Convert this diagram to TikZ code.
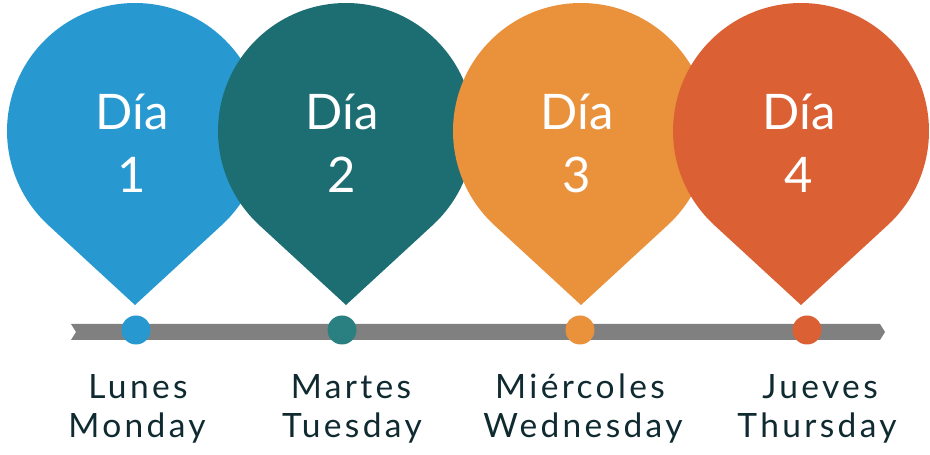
\documentclass[tikz,border=0pt]{standalone}
\usepackage{fontspec}
\setmainfont{Lato}
\newfontfamily\lblfont[LetterSpace=10]{Lato}
\definecolor{cblue}{HTML}{2899D0}
\definecolor{cteal}{HTML}{1D6E73}
\definecolor{ctealdot}{HTML}{2A8080}
\definecolor{corange}{HTML}{EA913C}
\definecolor{cred}{HTML}{DB6135}
\definecolor{cbar}{HTML}{808080}
\definecolor{ctext}{HTML}{0F2A30}
\tikzset{
  daytext/.style={anchor=base, text=white, font=\fontsize{49}{49}\selectfont, inner sep=0pt},
  lbltext/.style={anchor=base, text=ctext, font=\lblfont\fontsize{33.5}{33.5}\selectfont, inner sep=0pt},
  dot/.style={circle, minimum size=29pt, inner sep=0pt}
}
\newcommand{\dropshape}[3]{% x, tipx, color
  \fill[#3] (#2,150) -- ([shift={(#1,324)}]-47.4:128) arc[start angle=-47.4, end angle=227.4, radius=128] -- cycle;
}
\begin{document}
\begin{tikzpicture}[x=1pt,y=1pt]
\useasboundingbox (0,0) rectangle (930,455);
% drops
\dropshape{135}{135}{cblue}
\dropshape{346}{346}{cteal}
\dropshape{581}{581}{corange}
\dropshape{801}{801}{cred}
% day texts
\node[daytext] (d1a) at (132,325) {Día};
\node[daytext] (d1b) at (132,262) {1};
\node[daytext] (d2a) at (342,325) {Día};
\node[daytext] (d2b) at (342,262) {2};
\node[daytext] (d3a) at (577,325) {Día};
\node[daytext] (d3b) at (577,262) {3};
\node[daytext] (d4a) at (799,325) {Día};
\node[daytext] (d4b) at (799,262) {4};
% bar
\fill[cbar] (71,131) -- (880,131) -- (885,123) -- (880,115) -- (71,115) -- (76,123) -- cycle;
% dots
\node[dot, fill=cblue] (p1) at (136,125) {};
\node[dot, fill=ctealdot] (p2) at (342,125) {};
\node[dot, fill=corange] (p3) at (580,125) {};
\node[dot, fill=cred] (p4) at (807,125) {};
% labels
\node[lbltext] (l1a) at (138,56) {Lunes};
\node[lbltext] (l1b) at (137,17) {Monday};
\node[lbltext] (l2a) at (351,56) {Martes};
\node[lbltext] (l2b) at (352,17) {Tuesday};
\node[lbltext] (l3a) at (580,56) {Miércoles};
\node[lbltext] (l3b) at (583,17) {Wednesday};
\node[lbltext] (l4a) at (820,56) {Jueves};
\node[lbltext] (l4b) at (817,17) {Thursday};
\end{tikzpicture}
\end{document}
